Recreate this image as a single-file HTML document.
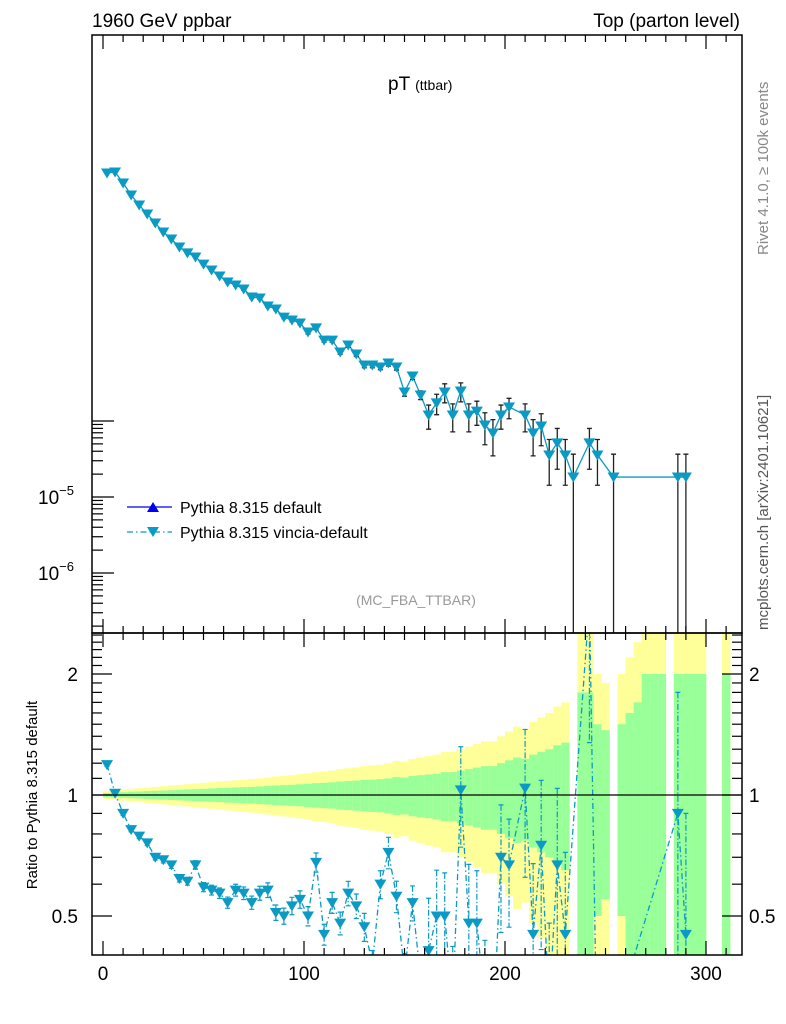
<!DOCTYPE html>
<html><head><meta charset="utf-8"><style>
html,body{margin:0;background:#fff;overflow:hidden;width:786px;height:1024px}
svg{display:block;font-family:"Liberation Sans",Arial,sans-serif}
</style></head><body>
<svg id="c" width="786" height="1024" viewBox="0 0 786 1024">
<defs>
<clipPath id="cm"><rect x="92" y="35" width="650" height="598"/></clipPath>
<clipPath id="cr"><rect x="92" y="633" width="650" height="322"/></clipPath>
</defs>
<g id="bands" clip-path="url(#cr)"></g>
<g id="main" clip-path="url(#cm)"></g>
<g id="ratio" clip-path="url(#cr)"></g>
<g id="axes"></g>
<rect x="92" y="35" width="650" height="598" fill="none" stroke="#000" stroke-width="1.5"/>
<rect x="92" y="633" width="650" height="322" fill="none" stroke="#000" stroke-width="1.5"/>
<line x1="92" x2="742" y1="795" y2="795" stroke="#000" stroke-width="1.2"/>
<text x="92" y="27" font-size="19">1960 GeV ppbar</text>
<text x="740" y="27" font-size="19" text-anchor="end">Top (parton level)</text>
<text x="388" y="90" font-size="19">pT <tspan font-size="14">(ttbar)</tspan></text>
<text x="416" y="605" font-size="14" fill="#999" text-anchor="middle">(MC_FBA_TTBAR)</text>
<text transform="translate(768,255) rotate(-90)" font-size="15" fill="#888">Rivet 4.1.0, ≥ 100k events</text>
<text transform="translate(768,630) rotate(-90)" font-size="15" fill="#555">mcplots.cern.ch [arXiv:2401.10621]</text>
<text transform="translate(37,795) rotate(-90)" font-size="15" text-anchor="middle">Ratio to Pythia 8.315 default</text>
<g>
<line x1="127" x2="172" y1="507" y2="507" stroke="#0000ee" stroke-width="1.3"/>
<path d="M147,512 L159,512 L153,502 Z" fill="#0000ee"/>
<text x="180" y="513" font-size="16">Pythia 8.315 default</text>
<line x1="127" x2="172" y1="532" y2="532" stroke="#0b9ac4" stroke-width="1.3" stroke-dasharray="6,3,1.5,3"/>
<path d="M147,527 L159,527 L153,537 Z" fill="#0b9ac4"/>
<text x="180" y="538" font-size="16">Pythia 8.315 vincia-default</text>
</g>
</svg>
<script>
const binCenters = [];
for (let i = 0; i < 73; i++) binCenters.push(2 + 4 * i);
const bandCenters = [];
for (let i = 0; i < 78; i++) bandCenters.push(2 + 4 * i);
const vinciaValues = [0.183,0.189,0.1355,0.0942,0.0695,0.053,0.0403,0.0307,0.0248,0.0195,
0.0163,0.0144,0.0116,0.0097,0.0081,0.00675,0.00615,0.00546,0.00428,0.00415,
0.00326,0.00298,0.00233,0.00213,0.00195,0.00148,0.00168,0.00116,0.00116,0.00081,
0.001,0.00076,0.000546,0.000546,0.000514,0.00058,0.000514,0.000241,0.000391,0.00022,
0.00012,0.000173,0.000241,0.00012,0.000248,0.00012,0.000135,8.86e-5,6.95e-5,1.2e-4,
1.53e-4,null,1.2e-4,6.95e-5,8.59e-5,3.57e-5,5.15e-5,3.57e-5,1.83e-5,null,
5.15e-5,3.57e-5,null,1.83e-5,null,null,null,null,null,null,
null,1.83e-5,1.83e-5];
const relErr = [0.01,0.01,0.012,0.012,0.014,0.015,0.016,0.018,0.02,0.02,
0.022,0.024,0.026,0.028,0.03,0.032,0.034,0.036,0.038,0.04,
0.042,0.044,0.046,0.05,0.05,0.055,0.055,0.06,0.06,0.065,
0.07,0.07,0.08,0.08,0.08,0.09,0.09,0.12,0.1,0.13,
0.35,0.3,0.28,0.4,0.28,0.4,0.35,0.45,0.5,0.35,
0.3,null,0.4,0.5,0.45,0.6,0.55,0.6,1.0,null,
0.55,0.6,null,1.0,null,null,null,null,null,null,
null,1.0,1.0];
const ratioValues = [1.19,1.01,0.90,0.82,0.79,0.76,0.70,0.69,0.67,0.62,
0.61,0.67,0.59,0.58,0.57,0.54,0.58,0.57,0.54,0.57,
0.58,0.51,0.50,0.53,0.55,0.50,0.68,0.45,0.54,0.48,
0.57,0.53,0.47,0.38,0.60,0.72,0.56,0.36,0.54,0.35,
0.41,0.50,0.50,0.30,1.03,0.48,0.48,0.30,0.25,0.70,
0.67,null,1.04,0.45,0.75,0.30,0.67,0.45,null,null,
3.0,0.2,null,null,null,null,null,null,null,null,
null,0.90,0.45];
const bandErr = [0.012,0.014,0.016,0.018,0.020,0.022,0.024,0.026,0.028,0.030,
0.032,0.034,0.036,0.038,0.040,0.042,0.044,0.046,0.048,0.050,
0.053,0.056,0.058,0.060,0.063,0.066,0.070,0.072,0.075,0.080,
0.083,0.086,0.090,0.092,0.095,0.100,0.108,0.105,0.115,0.120,
0.125,0.130,0.14,0.14,0.15,0.16,0.17,0.18,0.18,0.20,
0.22,0.24,0.23,0.26,0.28,0.30,0.33,0.35,null,0.8,
0.8,0.5,0.45,null,0.5,0.6,0.7,1.0,1.0,1.0,
null,1.0,1.0,1.0,1.0,null,null,1.0];
const xTickLabels = [0,100,200,300];
const ratioTickLabels = [0.5,1,2];
const mainTickLabels = [-6,-5];

const NS = "http://www.w3.org/2000/svg";
const xs = x => 103 + x * 2.01;
const ym = v => 497 - 76 * (Math.log10(v) + 5);
const yr = r => 795 - 121 * Math.log2(Math.max(r, 0.01));
const CY = "#0b9ac4";
function mk(tag, parent, attrs) {
  const e = document.createElementNS(NS, tag);
  for (const k in attrs) e.setAttribute(k, attrs[k]);
  parent.appendChild(e);
  return e;
}
const gB = document.getElementById('bands'), gM = document.getElementById('main'),
      gR = document.getElementById('ratio'), gA = document.getElementById('axes');

bandCenters.forEach((x, i) => {
  const e = bandErr[i];
  if (e == null) return;
  const x0 = xs(x - 2), w = xs(x + 2) - x0;
  const yT = yr(1 + 2 * e), yB = yr(Math.max(1 - 2 * e, 0.01));
  const y = mk('rect', gB, {x: x0, y: yT, width: w + 0.3, height: yB - yT, fill: '#ffff99'});
  
  
  const gT = yr(1 + e), gBo = yr(Math.max(1 - e, 0.01));
  const g = mk('rect', gB, {x: x0, y: gT, width: w + 0.3, height: gBo - gT, fill: '#99ff99'});
  
  
});

let pts = [];
binCenters.forEach((x, i) => { if (vinciaValues[i] != null) pts.push([xs(x), ym(vinciaValues[i]), i]); });
const pl = mk('polyline', gM, {points: pts.map(p => p[0] + ',' + p[1]).join(' '), fill: 'none', stroke: CY, 'stroke-width': 1.3});


pts.forEach(([px, py, i]) => {
  const v = vinciaValues[i], e = relErr[i];
  const t = ym(v * (1 + e)), b = e >= 1 ? 700 : ym(v * (1 - e));
  const eb = mk('path', gM, {d: `M${px},${t}V${b}M${px - 2.5},${t}H${px + 2.5}M${px - 2.5},${b}H${px + 2.5}`, stroke: '#222', 'stroke-width': 1.3, fill: 'none'});
  
  
});
pts.forEach(([px, py]) => {
  const m = mk('path', gM, {d: `M${px - 6},${py - 4.5}L${px + 6},${py - 4.5}L${px},${py + 5.5}Z`, fill: CY});
  
  
});

let rp = [];
binCenters.forEach((x, i) => { if (ratioValues[i] != null) rp.push([xs(x), yr(ratioValues[i]), i]); });
const rl = mk('polyline', gR, {points: rp.map(p => p[0] + ',' + p[1]).join(' '), fill: 'none', stroke: CY, 'stroke-width': 1.3, 'stroke-dasharray': '6,3,1.5,3'});


rp.forEach(([px, py, i]) => {
  const r = ratioValues[i], e = relErr[i] || 0.05;
  const t = yr(r * (1 + e)), b = yr(Math.max(r * (1 - e), 0.01));
  const eb = mk('path', gR, {d: `M${px},${t}V${b}M${px - 2.5},${t}H${px + 2.5}M${px - 2.5},${b}H${px + 2.5}`, stroke: CY, 'stroke-width': 1.2, 'stroke-dasharray': '6,2,1.5,2', fill: 'none'});
  
  
  const m = mk('path', gR, {d: `M${px - 6},${py - 4.5}L${px + 6},${py - 4.5}L${px},${py + 5.5}Z`, fill: CY});
  
  
});

for (let x = 0; x <= 310; x += 10) {
  const len = x % 100 === 0 ? 14 : 7;
  [[955, -1], [633, -1], [633, 1], [35, 1]].forEach(([y0, d]) => {
    const t = mk('line', gA, {x1: xs(x), x2: xs(x), y1: y0, y2: y0 + d * len, stroke: '#000', 'stroke-width': 1.2});
    
    
  });
}
xTickLabels.forEach(v => {
  const t = mk('text', gA, {x: xs(v), y: 980, 'font-size': 19, 'text-anchor': 'middle'});
  t.textContent = v;
  
  
});
for (let d = -7; d <= -4; d++) {
  for (let k = 1; k <= 9; k++) {
    const y = ym(k * Math.pow(10, d));
    if (y < 420 || y > 633) continue;
    const len = k === 1 ? 22 : 11;
    const t = mk('line', gA, {x1: 92, x2: 92 + len, y1: y, y2: y, stroke: '#000', 'stroke-width': 1.2});
    
    
  }
}
mainTickLabels.forEach(d => {
  const y = ym(Math.pow(10, d));
  const t = mk('text', gA, {x: 38, y: y + 7, 'font-size': 19});
  t.innerHTML = '10<tspan dy="-9" font-size="13">−' + (-d) + '</tspan>';
  
  
});
const minorR = [0.5,0.6,0.7,0.8,0.9,1,1.1,1.2,1.3,1.4,1.5,1.6,1.7,1.8,1.9,2,2.1,2.2,2.3,2.4,2.5];
minorR.forEach(r => {
  const y = yr(r);
  if (y < 633 || y > 955) return;
  const len = ratioTickLabels.includes(r) ? 20 : 10;
  [[92, 1], [742, -1]].forEach(([x0, d]) => {
    const t = mk('line', gA, {x1: x0, x2: x0 + d * len, y1: y, y2: y, stroke: '#000', 'stroke-width': 1.2});
    
    
  });
});
ratioTickLabels.forEach(r => {
  const y = yr(r) + 7;
  const a = mk('text', gA, {x: 78, y: y, 'font-size': 19, 'text-anchor': 'end'});
  a.textContent = r;
  
  
  const b = mk('text', gA, {x: 749, y: y, 'font-size': 19});
  b.textContent = r;
  
  
});
</script>
</body></html>
